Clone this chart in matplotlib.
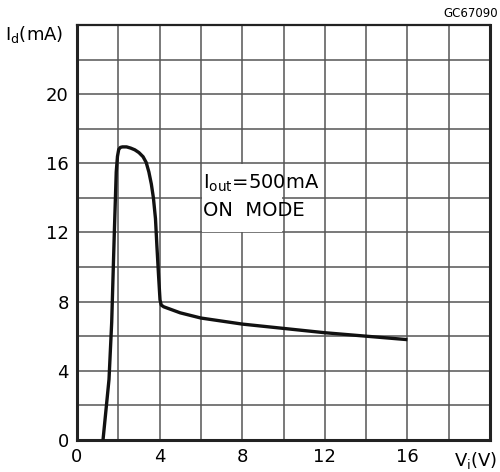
import matplotlib
matplotlib.use("Agg")
import matplotlib.pyplot as plt
from matplotlib.patches import Rectangle

# curve
vi = [1.26, 1.55, 1.68, 1.81, 1.90, 1.96, 2.02, 2.1, 2.2, 2.4, 2.6, 2.8,
      3.0, 3.2, 3.35, 3.48, 3.6, 3.7, 3.8, 3.87, 3.95, 4.02, 4.08, 4.2,
      5.0, 6.0, 8.0, 10.0, 12.0, 14.0, 16.0]
idd = [0.0, 3.5, 6.8, 12.1, 15.5, 16.4, 16.8, 16.92, 16.95, 16.95, 16.88, 16.78,
       16.62, 16.38, 16.05, 15.5, 14.8, 14.0, 12.8, 11.2, 9.5, 8.1, 7.8, 7.7,
       7.35, 7.05, 6.7, 6.45, 6.2, 6.0, 5.8]

xticks = [0, 4, 8, 12, 16]
yticks = [0, 4, 8, 12, 16, 20]

fig = plt.figure(figsize=(5.0, 4.72), dpi=100)
ax = fig.add_axes([0.154, 0.068, 0.826, 0.879])
ax.set_xlim(0, 20)
ax.set_ylim(0, 24)

# grid every 2 units
for g in range(2, 20, 2):
    ax.axvline(g, color='#555555', lw=1.1, zorder=1)
for g in range(2, 24, 2):
    ax.axhline(g, color='#555555', lw=1.1, zorder=1)

# white box behind the note
ax.add_patch(Rectangle((6.05, 12.05), 3.9, 3.9, facecolor='white',
                       edgecolor='none', zorder=2))
ax.text(6.12, 14.55, r'I$_{\mathregular{out}}$=500mA', fontsize=14, zorder=3)
ax.text(6.12, 12.98, 'ON  MODE', fontsize=14, zorder=3)

ax.plot(vi, idd, color='#111111', lw=2.4, zorder=4, solid_capstyle='butt',
        solid_joinstyle='round')

ax.set_xticks(xticks)
ax.set_yticks(yticks)
ax.tick_params(length=0, labelsize=13, pad=6)
for s in ax.spines.values():
    s.set_linewidth(2.2)
    s.set_color('#222222')
ax.spines['top'].set_linewidth(1.6)

fig.text(0.01, 0.915, r'I$_{\mathregular{d}}$(mA)', fontsize=13)
fig.text(0.995, 0.012, r'V$_{\mathregular{i}}$(V)', fontsize=13, ha='right')
fig.text(0.995, 0.963, 'GC67090', fontsize=8.5, ha='right')

fig.savefig('out.png', dpi=100)
